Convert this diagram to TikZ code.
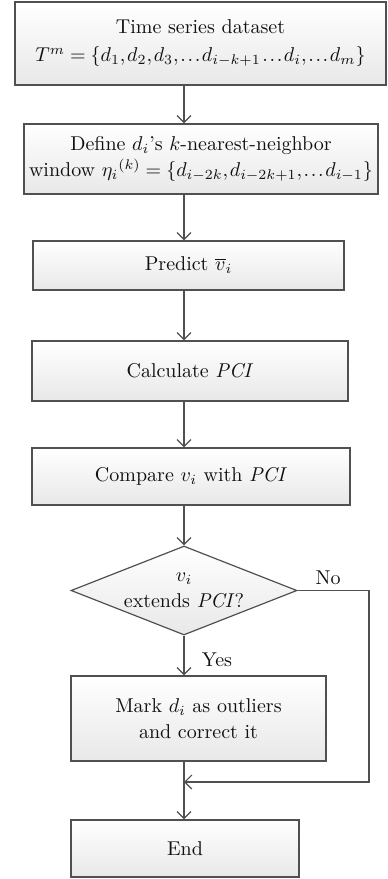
\documentclass[tikz,border=0pt]{standalone}
\usepackage{amsmath,amssymb}
\usepackage{xcolor}
\usepackage{tikz}
\usetikzlibrary{shapes.geometric,arrows.meta}
\definecolor{edge}{HTML}{505050}
\definecolor{shade}{HTML}{E8E8E8}
\definecolor{text}{HTML}{111111}
\newcommand\tightmath{\thinmuskip=1.5mu\relax\medmuskip=2mu\relax\thickmuskip=4.5mu\relax}
\tikzset{
  box/.style={draw=edge, line width=0.6pt, top color=white, bottom color=shade, align=center, inner sep=2pt, text=text, font=\fontsize{10}{13}\selectfont},
  tight/.style={font=\fontsize{10}{13}\selectfont\tightmath},
  dec/.style={box, diamond, aspect=2.5, inner sep=0pt},
  flow/.style={draw=edge, line width=0.6pt, -{Straight Barb[length=3.5pt,width=7pt]}},
  lab/.style={text=text, font=\fontsize{10}{13}\selectfont},
}
\begin{document}
\begin{tikzpicture}[x=0.5pt,y=-0.5pt]
  \useasboundingbox (0,0) rectangle (387,879);
  \coordinate (sp) at (184,0);
  \coordinate (turn) at (369,782);
  \coordinate (join) at (184,782);

  \node[box,tight,minimum width=185.5pt,minimum height=41.5pt] (data) at (200.5,43.5)
    {Time series dataset\\[1pt] $T^m=\{d_1,d_2,d_3,\ldots d_{i-k+1}\ldots d_i,\ldots d_m\}$};
  \node[box,tight,minimum width=177pt,minimum height=35pt] (win) at (201,159)
    {Define $d_i$'s $k$-nearest-neighbor\\ window ${\eta_i}^{(k)}=\{d_{i-2k},d_{i-2k+1},\ldots d_{i-1}\}$};
  \node[box,minimum width=155.5pt,minimum height=24.5pt] (pred) at (188.5,265.5)
    {Predict $\overline{v}_i$};
  \node[box,minimum width=158pt,minimum height=30pt] (calc) at (190,371)
    {Calculate \textit{PCI}};
  \node[box,minimum width=159pt,minimum height=28.5pt] (cmp) at (191,476.5)
    {Compare $v_i$ with \textit{PCI}};
  \node[dec,minimum width=113pt,minimum height=44.5pt] (ext) at (184,590.5)
    {$v_i$\\ extends \textit{PCI}?};
  \node[box,minimum width=127.5pt,minimum height=42.5pt] (mark) at (198.5,718.5)
    {Mark $d_i$ as outliers\\ and correct it};
  \node[box,minimum width=114pt,minimum height=28.5pt] (fin) at (185,848.5)
    {End};

  \draw[flow] (data.south -| sp) -- (win.north -| sp);
  \draw[flow] (win.south -| sp) -- (pred.north -| sp);
  \draw[flow] (pred.south -| sp) -- (calc.north -| sp);
  \draw[flow] (calc.south -| sp) -- (cmp.north -| sp);
  \draw[flow] (cmp.south -| sp) -- (ext.north);
  \draw[flow] (ext.south) -- (mark.north -| sp);
  \draw[flow] (mark.south -| sp) -- (fin.north -| sp);
  \draw[flow] (ext.east) -| (turn) -- (join);

  \node[lab] (yes) at (217,660) {Yes};
  \node[lab] (no) at (328,578) {No};
\end{tikzpicture}
\end{document}
